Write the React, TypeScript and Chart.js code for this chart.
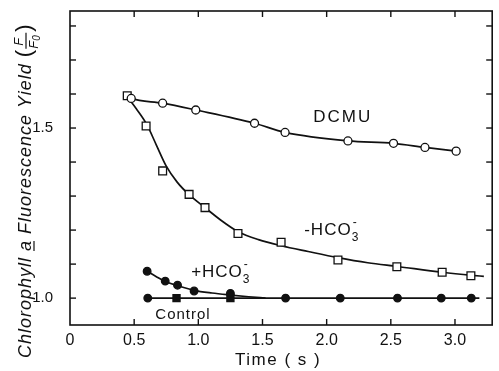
import React, { useEffect, useRef } from 'react';
import { Chart, registerables } from 'chart.js';

Chart.register(...registerables);

// Measured points: time (s) and fluorescence yield F/F0
const dcmuTime = [0.477, 0.722, 0.98, 1.438, 1.676, 2.166, 2.521, 2.766, 3.009];
const dcmuYield = [1.587, 1.573, 1.553, 1.514, 1.487, 1.462, 1.455, 1.443, 1.432];

const minusBicTime = [0.446, 0.593, 0.722, 0.928, 1.052, 1.309, 1.645, 2.088, 2.547, 2.9, 3.124];
const minusBicYield = [1.595, 1.506, 1.374, 1.305, 1.266, 1.19, 1.164, 1.112, 1.092, 1.076, 1.066];

const plusBicTime = [0.601, 0.742, 0.838, 0.967, 1.25];
const plusBicYield = [1.079, 1.05, 1.038, 1.021, 1.014];

const controlTime = [0.606, 0.83, 1.25, 1.68, 2.106, 2.552, 2.893, 3.127];
const controlYield = [1.0, 1.0, 1.0, 1.0, 1.0, 1.0, 1.0, 1.0];
const controlMarkers = ['circle', 'rect', 'rect', 'circle', 'circle', 'circle', 'circle', 'circle'];

// Hand-drawn fitted curves
const minusBicCurveTime = [0.441, 0.518, 0.596, 0.673, 0.75, 0.835, 0.928, 1.052, 1.176, 1.307, 1.469, 1.647, 1.856, 2.088, 2.32, 2.552, 2.9, 3.132, 3.225];
const minusBicCurveYield = [1.594, 1.556, 1.512, 1.45, 1.388, 1.341, 1.304, 1.266, 1.229, 1.196, 1.172, 1.154, 1.137, 1.119, 1.104, 1.093, 1.076, 1.067, 1.064];

const plusBicCurveTime = [0.601, 0.673, 0.742, 0.835, 0.967, 1.106, 1.253, 1.392, 1.524];
const plusBicCurveYield = [1.079, 1.063, 1.049, 1.037, 1.023, 1.015, 1.009, 1.004, 1.0];

const controlCurveTime = [0.59, 3.19];
const controlCurveYield = [1.0, 1.0];

const dcmuCurveTime = [0.441, 0.477, 0.722, 0.98, 1.438, 1.676, 2.166, 2.521, 2.766, 3.009];
const dcmuCurveYield = [1.594, 1.587, 1.573, 1.553, 1.514, 1.487, 1.462, 1.455, 1.443, 1.432];

// axis ranges and tick labels
const xMin = 0;
const xMax = 3.29;
const xStep = 0.5;
const yMin = 0.921;
const yMax = 1.844;
const yStep = 0.1;
const yLabelled = [1.0, 1.5];

// series labels anchored in data units
const seriesLabels = [
  { name: 'DCMU', x: 1.895, y: 1.518 },
  { name: '-HCO3', x: 1.825, y: 1.185 },
  { name: '+HCO3', x: 0.944, y: 1.062 },
  { name: 'Control', x: 0.665, y: 0.94 },
];

const FONT = '"Liberation Sans", Arial, sans-serif';
const INK = '#111';

const pts = (xs: number[], ys: number[]) => xs.map((x, i) => ({ x, y: ys[i] }));

const decor = {
  id: 'decor',
  afterDraw(chart: any) {
    const { ctx, chartArea: a, scales } = chart;
    const xs = scales.x;
    const ys = scales.y;
    ctx.save();
    ctx.strokeStyle = INK;
    ctx.lineWidth = 1.6;
    ctx.strokeRect(a.left, a.top, a.right - a.left, a.bottom - a.top);
    const line = (x1: number, y1: number, x2: number, y2: number) => {
      ctx.beginPath();
      ctx.moveTo(x1, y1);
      ctx.lineTo(x2, y2);
      ctx.stroke();
    };
    ctx.lineWidth = 1.4;
    xs.ticks.forEach((t: any) => {
      if (t.value <= xMin + 1e-6) return;
      const px = xs.getPixelForValue(t.value);
      line(px, a.bottom, px, a.bottom - 6);
      line(px, a.top, px, a.top + 6);
    });
    ys.ticks.forEach((t: any) => {
      const py = ys.getPixelForValue(t.value);
      line(a.left, py, a.left + 6, py);
      line(a.right, py, a.right - 6, py);
    });

    ctx.fillStyle = INK;
    ctx.textBaseline = 'alphabetic';
    ctx.textAlign = 'left';

    // series labels
    const drawBic = (sign: string, px: number, py: number) => {
      ctx.font = `17px ${FONT}`;
      (ctx as any).letterSpacing = '1px';
      const main = sign + 'HCO';
      ctx.fillText(main, px, py);
      const w = ctx.measureText(main).width;
      ctx.font = `12px ${FONT}`;
      (ctx as any).letterSpacing = '0px';
      ctx.fillText('3', px + w, py + 6);
      ctx.fillText('-', px + w + 1, py - 9);
    };
    seriesLabels.forEach((l) => {
      const px = xs.getPixelForValue(l.x);
      const py = ys.getPixelForValue(l.y);
      if (l.name === 'DCMU') {
        ctx.font = `17px ${FONT}`;
        (ctx as any).letterSpacing = '2px';
        ctx.fillText('DCMU', px, py);
      } else if (l.name === 'Control') {
        ctx.font = `15px ${FONT}`;
        (ctx as any).letterSpacing = '1px';
        ctx.fillText('Control', px, py);
      } else {
        drawBic(l.name[0], px, py);
      }
    });

    // x-axis title
    ctx.font = `17px ${FONT}`;
    (ctx as any).letterSpacing = '1.5px';
    ctx.textAlign = 'center';
    ctx.fillText('Time ( s )', (a.left + a.right) / 2 - 3, 365);

    // y-axis title (rotated)
    ctx.translate(31, 358);
    ctx.rotate(-Math.PI / 2);
    ctx.textAlign = 'left';
    ctx.font = `italic 18px ${FONT}`;
    (ctx as any).letterSpacing = '1px';
    let cx = 0;
    const put = (s: string) => {
      ctx.fillText(s, cx, 0);
      const w = ctx.measureText(s).width;
      cx += w;
      return w;
    };
    put('Chlorophyll ');
    const ax = cx;
    const aw = put('a');
    ctx.lineWidth = 1.2;
    line(ax, 3, ax + aw - 1, 3);
    put(' Fluorescence Yield ');
    (ctx as any).letterSpacing = '0px';
    ctx.font = `22px ${FONT}`;
    put('(');
    ctx.font = `italic 13px ${FONT}`;
    const fx = cx + 1;
    ctx.fillText('F', fx + 3, -8);
    line(fx, -5, fx + 16, -5);
    ctx.fillText('F', fx, 7);
    ctx.font = `italic 10px ${FONT}`;
    ctx.fillText('0', fx + 8, 9);
    cx = fx + 17;
    ctx.font = `22px ${FONT}`;
    put(')');
    ctx.restore();
  },
};

export default function App() {
  const ref = useRef<HTMLCanvasElement | null>(null);

  useEffect(() => {
    if (!ref.current) return;
    const curve = (xs: number[], ys: number[], label: string) => ({
      label,
      data: pts(xs, ys),
      showLine: true,
      borderColor: INK,
      borderWidth: 1.7,
      cubicInterpolationMode: 'monotone' as const,
      pointRadius: 0,
      order: 2,
    });
    const marks = {
      showLine: false,
      pointBorderColor: INK,
      pointBorderWidth: 1.3,
      order: 1,
    };
    const chart = new Chart(ref.current, {
      type: 'scatter',
      data: {
        datasets: [
          curve(dcmuCurveTime, dcmuCurveYield, 'DCMU curve'),
          curve(minusBicCurveTime, minusBicCurveYield, '-HCO3- curve'),
          curve(plusBicCurveTime, plusBicCurveYield, '+HCO3- curve'),
          curve(controlCurveTime, controlCurveYield, 'Control curve'),
          {
            ...marks,
            label: 'DCMU',
            data: pts(dcmuTime, dcmuYield),
            pointStyle: 'circle',
            pointRadius: 4,
            pointBackgroundColor: '#fff',
          },
          {
            ...marks,
            label: '-HCO3-',
            data: pts(minusBicTime, minusBicYield),
            pointStyle: 'rect',
            pointRadius: 5.5,
            pointBackgroundColor: '#fff',
          },
          {
            ...marks,
            label: '+HCO3-',
            data: pts(plusBicTime, plusBicYield),
            pointStyle: 'circle',
            pointRadius: 3.8,
            pointBackgroundColor: INK,
          },
          {
            ...marks,
            label: 'Control',
            data: pts(controlTime, controlYield),
            pointStyle: controlMarkers as any,
            pointRadius: controlMarkers.map((m) => (m === 'rect' ? 5 : 3.8)),
            pointBackgroundColor: INK,
          },
        ],
      },
      options: {
        animation: false,
        responsive: false,
        layout: { padding: { top: 11, right: 4, left: 0, bottom: 0 } },
        plugins: { legend: { display: false }, tooltip: { enabled: false } },
        scales: {
          x: {
            type: 'linear',
            min: xMin,
            max: xMax,
            grid: { display: false, drawTicks: false },
            border: { display: false },
            ticks: {
              stepSize: xStep,
              includeBounds: false,
              padding: 6,
              color: INK,
              font: { family: FONT, size: 16 },
              maxRotation: 0,
              callback: (v: any) => (Math.abs(v) < 1e-6 ? '0' : Number(v).toFixed(1)),
            },
            afterFit: (s: any) => {
              s.height = 46;
              s.paddingLeft = 0;
              s.paddingRight = 0;
            },
          },
          y: {
            type: 'linear',
            min: yMin,
            max: yMax,
            grid: { display: false, drawTicks: false },
            border: { display: false },
            ticks: {
              stepSize: yStep,
              includeBounds: false,
              padding: 17,
              color: INK,
              font: { family: FONT, size: 15 },
              callback: (v: any) =>
                yLabelled.some((l) => Math.abs(l - v) < 1e-6) ? Number(v).toFixed(1) : '',
            },
            afterFit: (s: any) => {
              s.width = 70;
              s.paddingTop = 0;
              s.paddingBottom = 0;
            },
          },
        },
      },
      plugins: [decor],
    });
    return () => chart.destroy();
  }, []);

  return (
    <div style={{ position: 'fixed', left: 0, top: 0, width: 499, height: 371, background: '#fff' }}>
      <canvas ref={ref} width={499} height={371} />
    </div>
  );
}
